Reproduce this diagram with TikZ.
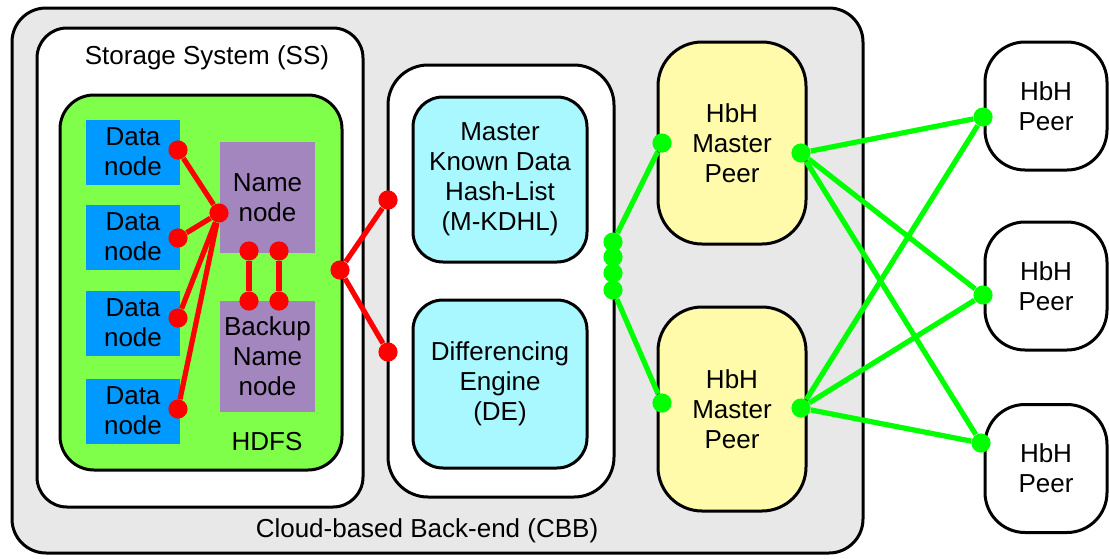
\documentclass[tikz,border=0pt]{standalone}
\usepackage{fontspec}
\setmainfont{Liberation Sans}
\usepackage{xcolor}
\usepackage{tikz}
\definecolor{gris}{HTML}{E8E8E8}
\definecolor{vert}{HTML}{7FFF4A}
\definecolor{bleu}{HTML}{0099FF}
\definecolor{violet}{HTML}{A386BE}
\definecolor{cyan}{HTML}{AAF8FF}
\definecolor{jaune}{HTML}{FFFBAA}
\definecolor{rouge}{HTML}{FF0000}
\definecolor{vertlien}{HTML}{00FF00}
\newcommand*{\rayonPoint}{4.8pt}
\newcommand*{\epaisseurLien}{2.6pt}
\newcommand*{\epaisseurCadre}{1.5pt}
\tikzset{
	texte/.style={inner sep=0pt, align=center, font=\fontsize{13}{15}\selectfont},
	cadre/.style={draw, line width=\epaisseurCadre, rounded corners=#1, texte},
	cadre/.default=16pt,
	donnee/.style={texte, fill=bleu, minimum width=47pt, minimum height=32.5pt},
	nom/.style={texte, fill=violet, minimum width=47.5pt, minimum height=55.5pt},
	pointrouge/.style={circle, fill=rouge, inner sep=0pt, minimum size=2*\rayonPoint},
	pointvert/.style={circle, fill=vertlien, inner sep=0pt, minimum size=2*\rayonPoint},
	lienrouge/.style={rouge, line width=\epaisseurLien},
	lienvert/.style={vertlien, line width=\epaisseurLien}
}

\begin{document}
\begin{tikzpicture}[x=0.5pt,y=-0.5pt]
	\useasboundingbox (0,0) rectangle (1109,558);
	% back-end
	\node[cadre=17pt, fill=gris, minimum width=425.5pt, minimum height=272.5pt] (cbb) at (437.5,280.5) {};
	\node[texte] (cbbtxt) at (427,531) {Cloud-based Back-end (CBB)};
	\node[cadre=15pt, fill=white, minimum width=163pt, minimum height=239.5pt] (ss) at (200,267.5) {};
	\node[texte] (sstxt) at (207,58) {Storage System (SS)};
	\node[cadre=17pt, fill=vert, minimum width=141pt, minimum height=187.5pt] (hdfs) at (201,282.5) {};
	\node[texte] (hdfstxt) at (267,442) {HDFS};
	\foreach \y [count=\i] in {152,237,323,411}
		\node[donnee] (dn\i) at (133,\y) {Data\\node};
	\node[nom] (nn) at (267.5,197.5) {Name\\node};
	\node[nom] (bnn) at (267.5,356) {Backup\\Name\\node};
	
	\node[cadre=20pt, fill=white, minimum width=113pt, minimum height=216pt] (mil) at (501,281) {};
	\node[cadre=15pt, fill=cyan, minimum width=87pt, minimum height=82.5pt] (kdhl) at (500,179.5) {Master\\Known Data\\Hash-List\\(M-KDHL)};
	\node[cadre=15pt, fill=cyan, minimum width=87pt, minimum height=84pt] (de) at (500,384) {Differencing\\Engine\\(DE)};
	
	\node[cadre=22pt, fill=jaune, minimum width=74pt, minimum height=101pt] (m1) at (732,143) {HbH\\Master\\Peer};
	\node[cadre=22pt, fill=jaune, minimum width=74pt, minimum height=102pt] (m2) at (732,409) {HbH\\Master\\Peer};
	\foreach \y [count=\i] in {106,286,468.5}
		\node[cadre=20pt, fill=white, minimum width=61pt, minimum height=64pt] (p\i) at (1046,\y) {HbH\\Peer};
	
	% points rouges
	\foreach \y [count=\i] in {150,238,318,409}
		\node[pointrouge] (r\i) at (178,\y) {};
	\node[pointrouge] (hub) at (219,213) {};
	\node[pointrouge] (b1) at (249,251) {};
	\node[pointrouge] (b2) at (279,251) {};
	\node[pointrouge] (b3) at (249,301) {};
	\node[pointrouge] (b4) at (279,301) {};
	\node[pointrouge] (s) at (340,270) {};
	\node[pointrouge] (t1) at (388,200) {};
	\node[pointrouge] (t2) at (388,352) {};
	\foreach \i in {1,...,4}
		\draw[lienrouge] (r\i) -- (hub);
	\draw[lienrouge] (b1) -- (b3);
	\draw[lienrouge] (b2) -- (b4);
	\draw[lienrouge] (t1) -- (s) -- (t2);
	
	% points verts
	\foreach \y [count=\i] in {242,257,273,290}
		\node[pointvert] (g\i) at (613,\y) {};
	\node[pointvert] (m1g) at (662,143) {};
	\node[pointvert] (m2g) at (662,403) {};
	\node[pointvert] (m1d) at (801,153) {};
	\node[pointvert] (m2d) at (801,408) {};
	\node[pointvert] (q1) at (983,117) {};
	\node[pointvert] (q2) at (983,295) {};
	\node[pointvert] (q3) at (981,443) {};
	\draw[lienvert] (g1) -- (m1g);
	\draw[lienvert] (g4) -- (m2g);
	\foreach \m in {m1d,m2d}
		\foreach \q in {q1,q2,q3}
			\draw[lienvert] (\m) -- (\q);
	
\end{tikzpicture}
\end{document}
